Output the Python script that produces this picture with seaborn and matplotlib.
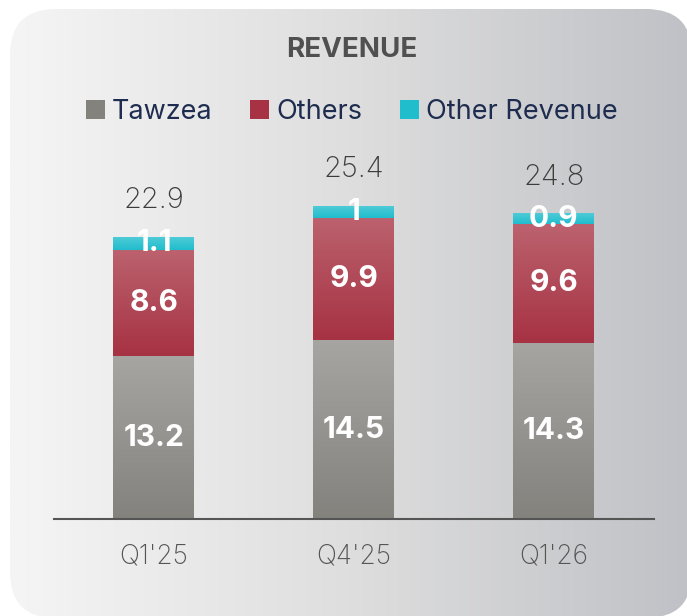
import numpy as np
import matplotlib
matplotlib.use("Agg")
import matplotlib.pyplot as plt
from matplotlib.colors import LinearSegmentedColormap
from matplotlib.patches import FancyBboxPatch, Patch
import seaborn as sns

# data
quarters = ["Q1'25", "Q4'25", "Q1'26"]
tawzea = [13.2, 14.5, 14.3]
others = [8.6, 9.9, 9.6]
other_rev = [1.1, 1.0, 0.9]
totals = [22.9, 25.4, 24.8]

series_names = ["Tawzea", "Others", "Other Revenue"]
# (top colour, bottom colour)
grads = [("#a7a5a2", "#84827d"), ("#bc626e", "#a63243"), ("#52ccd7", "#20bdcd")]

sns.set_style("white")
plt.rcParams["font.family"] = ["Inter", "DejaVu Sans"]

fig = plt.figure(figsize=(6.87, 6.16), dpi=100)
fig.patch.set_facecolor("white")

# rounded grey background card
bg = fig.add_axes([0, 0, 1, 1], zorder=-1)
bg.set_xlim(0, 687)
bg.set_ylim(616, 0)
bg.axis("off")
card = FancyBboxPatch((10, 9), 682, 609, boxstyle="round,pad=0,rounding_size=46",
                      facecolor="none", edgecolor="none")
bg.add_patch(card)
bg_cmap = LinearSegmentedColormap.from_list("bg", ["#f5f5f5", "#dedede", "#c0c1c6"])
im = bg.imshow(np.linspace(0, 1, 256).reshape(1, -1), cmap=bg_cmap,
               extent=(10, 692, 618, 9), aspect="auto")
im.set_clip_path(card)

ax = fig.add_axes([0.0786, 0.1575, 0.873, 0.6006])
ax.set_facecolor("none")


def grad_fill(patches, top, bottom):
    cmap = LinearSegmentedColormap.from_list("", [bottom, top])
    for p in patches:
        x0, y0, w, h = p.get_x(), p.get_y(), p.get_width(), p.get_height()
        g = ax.imshow(np.linspace(0, 1, 256).reshape(-1, 1), cmap=cmap, origin="lower",
                      extent=(x0, x0 + w, y0, y0 + h), aspect="auto", zorder=2)
        g.set_clip_path(p)
        p.set_facecolor("none")


bottom = np.zeros(len(quarters))
for vals, (top_c, bot_c) in zip([tawzea, others, other_rev], grads):
    sns.barplot(x=quarters, y=vals, bottom=bottom, color=top_c, width=0.405,
                linewidth=0, ax=ax)
    patches = ax.containers[-1]
    grad_fill(patches, top_c, bot_c)
    for p, v in zip(patches, vals):
        ax.text(p.get_x() + p.get_width() / 2, p.get_y() + p.get_height() / 2,
                f"{v:g}", ha="center", va="center", color="white",
                fontsize=21.5, fontweight="bold", zorder=5)
    bottom = bottom + np.array(vals)

for i, t in enumerate(totals):
    ax.annotate(f"{t:g}", (i, t), xytext=(0, 26), textcoords="offset points",
                ha="center", va="center", fontsize=21, color="#3c3c3c",
                fontweight="light")

ax.set_xlim(-0.5, 2.5)
ax.set_ylim(0, 30)
ax.set_yticks([])
for s in ["top", "left", "right"]:
    ax.spines[s].set_visible(False)
ax.spines["bottom"].set_color("#555555")
ax.spines["bottom"].set_linewidth(1.5)
ax.tick_params(axis="x", length=0, pad=18, labelsize=19, labelcolor="#555555")
for lbl in ax.get_xticklabels():
    lbl.set_fontweight("light")
ax.set_xlabel("")

fig.text(0.512, 0.919, "REVENUE", ha="center", va="center", fontsize=20,
         fontweight="bold", color="#505050")

handles = [Patch(facecolor=b, edgecolor="none") for _, b in grads]
fig.legend(handles, series_names, loc="center", bbox_to_anchor=(0.512, 0.818), ncol=3,
           frameon=False, fontsize=19.5, handlelength=0.7, handleheight=0.7,
           handletextpad=0.25, columnspacing=1.4, labelcolor="#1e2d4f")

fig.savefig("out.png", dpi=100)
